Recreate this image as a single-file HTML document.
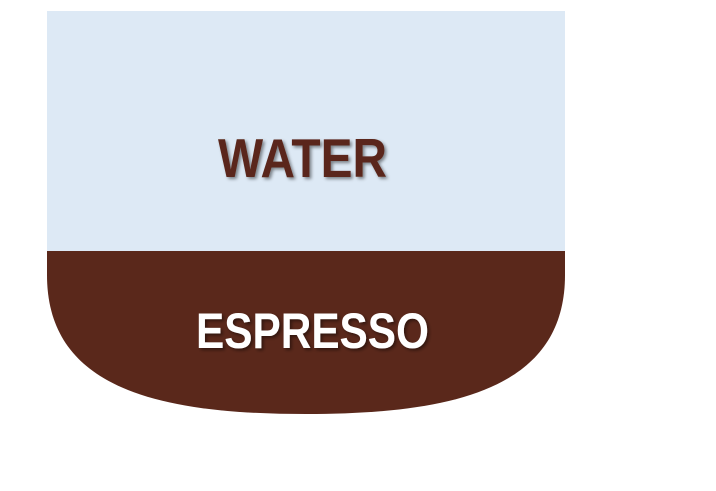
<!DOCTYPE html>
<html><head><meta charset="utf-8"><style>
html,body{margin:0;padding:0;background:#fff;width:716px;height:491px;overflow:hidden}
</style></head><body>
<svg width="716" height="491" viewBox="0 0 716 491" xmlns="http://www.w3.org/2000/svg">
<defs>
<filter id="sh" x="-10%" y="-20%" width="130%" height="150%">
<feDropShadow dx="2" dy="2" stdDeviation="1.5" flood-color="#000" flood-opacity="0.45"/>
</filter>
</defs>
<rect x="47" y="11" width="518" height="240" fill="#dde9f5"/>
<path d="M47 251 H565 V275 C565 388 455 414 306 414 C157 414 47 388 47 275 Z" fill="#5a281b"/>
<text x="218" y="177" textLength="169" lengthAdjust="spacingAndGlyphs" font-family="Liberation Sans, sans-serif" font-weight="bold" font-size="55" fill="#5a281b" filter="url(#sh)">WATER</text>
<text x="196" y="348" textLength="233" lengthAdjust="spacingAndGlyphs" font-family="Liberation Sans, sans-serif" font-weight="bold" font-size="50" fill="#ffffff" filter="url(#sh)">ESPRESSO</text>
</svg>
</body></html>
